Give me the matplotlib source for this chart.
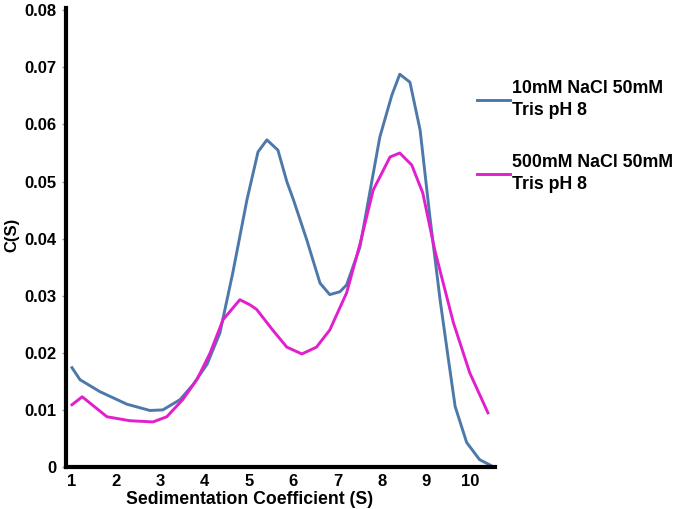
import matplotlib
matplotlib.use("Agg")
import matplotlib.pyplot as plt

plt.rcParams['font.family'] = ['Liberation Sans', 'DejaVu Sans']
plt.rcParams['font.weight'] = 'bold'

# Blue series: 10mM NaCl 50mM Tris pH 8
s_blue = [1.0, 1.18, 1.63, 2.24, 2.76, 3.05, 3.44, 3.73, 4.05, 4.34, 4.63, 4.95, 5.2, 5.4,
          5.65, 5.85, 6.0, 6.3, 6.6, 6.82, 7.05, 7.2, 7.5, 7.95, 8.22, 8.4, 8.63, 8.86,
          9.08, 9.31, 9.49, 9.65, 9.91, 10.2, 10.45]
c_blue = [0.0174, 0.0153, 0.0132, 0.0110, 0.0099, 0.0100, 0.0118, 0.0144, 0.0180, 0.0235,
          0.0340, 0.0468, 0.0552, 0.0573, 0.0555, 0.0500, 0.0468, 0.0398, 0.0322, 0.0302,
          0.0307, 0.0319, 0.0385, 0.0578, 0.0651, 0.0688, 0.0674, 0.0590, 0.0438, 0.0293,
          0.0193, 0.0106, 0.0043, 0.0013, 0.0003]

# Pink series: 500mM NaCl 50mM Tris pH 8
s_pink = [1.0, 1.23, 1.79, 2.31, 2.83, 3.14, 3.5, 3.82, 4.12, 4.41, 4.79, 5.02, 5.17, 5.53,
          5.85, 6.19, 6.52, 6.82, 7.2, 7.5, 7.8, 8.18, 8.4, 8.67, 8.92, 9.19, 9.61, 9.98, 10.39]
c_pink = [0.0109, 0.0123, 0.0088, 0.0081, 0.0079, 0.0088, 0.0118, 0.0153, 0.0200, 0.0258,
          0.0293, 0.0284, 0.0276, 0.0240, 0.0210, 0.0198, 0.0210, 0.0240, 0.0305, 0.0390,
          0.0485, 0.0543, 0.0550, 0.0529, 0.0480, 0.0380, 0.0253, 0.0165, 0.0095]

labels = ["10mM NaCl 50mM\nTris pH 8", "500mM NaCl 50mM\nTris pH 8"]
x_ticks = [1, 2, 3, 4, 5, 6, 7, 8, 9, 10]
y_ticks = [0, 0.01, 0.02, 0.03, 0.04, 0.05, 0.06, 0.07, 0.08]
y_ticklabels = ["0", "0.01", "0.02", "0.03", "0.04", "0.05", "0.06", "0.07", "0.08"]

fig = plt.figure(figsize=(6.73, 5.09), dpi=100)
ax = fig.add_axes([66/673, 1 - 467/509, (495 - 66)/673, (467 - 8)/509])

ax.plot(s_blue, c_blue, color='#4c79a9', lw=2.1, label=labels[0])
ax.plot(s_pink, c_pink, color='#e21fcc', lw=2.1, label=labels[1])

ax.set_xlim(0.865, 10.55)
ax.set_ylim(0, 0.0804)
ax.set_xticks(x_ticks)
ax.set_yticks(y_ticks)
ax.set_yticklabels(y_ticklabels)
ax.tick_params(axis='x', length=0, pad=5, labelsize=12)
ax.tick_params(axis='y', length=3, width=1, color='#999999', pad=4, labelsize=12)
for lab in ax.get_xticklabels() + ax.get_yticklabels():
    lab.set_fontweight('bold')

for side in ['top', 'right']:
    ax.spines[side].set_visible(False)
for side in ['left', 'bottom']:
    ax.spines[side].set_linewidth(3)
    ax.spines[side].set_color('black')

fig.text(250/673, 1 - 500/509, "Sedimentation Coefficient (S)", fontsize=12.7,
         fontweight='bold', ha='center', va='center')
fig.text(12/673, 1 - 235/509, "C(S)", fontsize=12, fontweight='bold',
         ha='center', va='center', rotation=90)

leg = fig.legend(loc='upper left', bbox_to_anchor=(477/673, 1 - 80/509), frameon=False,
                 fontsize=12.8, handlelength=1.85, handletextpad=0.1, labelspacing=2.0,
                 borderaxespad=0, borderpad=0)
for t in leg.get_texts():
    t.set_fontweight('bold')
    t.set_linespacing(1.35)

fig.savefig("out.png", dpi=100)
